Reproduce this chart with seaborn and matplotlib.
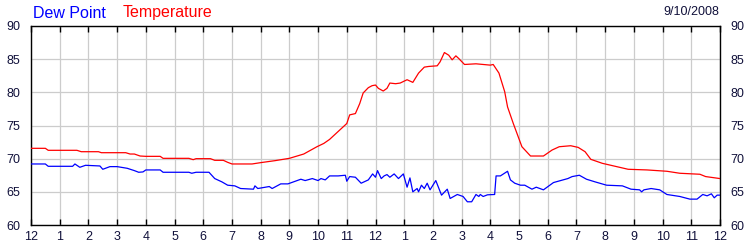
import matplotlib
matplotlib.use("Agg")
import matplotlib.pyplot as plt
import seaborn as sns
import pandas as pd

temp_hours = [0.0, 0.5, 0.6, 1.6, 1.75, 2.35, 2.45, 3.3, 3.45, 3.6, 3.8, 4.0, 4.5, 4.6, 5.5, 5.65,
              5.75, 6.25, 6.4, 6.7, 6.85, 7.0, 7.7, 8.0, 8.5, 9.0, 9.5, 9.96, 10.2, 10.4, 10.7,
              11.0, 11.1, 11.3, 11.45, 11.57, 11.75, 11.88, 12.0, 12.1, 12.27, 12.4, 12.5, 12.7,
              12.86, 13.1, 13.3, 13.5, 13.7, 13.85, 14.15, 14.25, 14.4, 14.55, 14.67, 14.8, 14.9,
              15.1, 15.5, 16.0, 16.1, 16.3, 16.5, 16.6, 16.8, 17.1, 17.4, 17.85, 18.15, 18.4,
              18.8, 19.06, 19.3, 19.5, 19.9, 20.3, 20.8, 21.46, 22.15, 22.6, 23.3, 23.5, 24.0]
temperature = [71.56, 71.56, 71.26, 71.26, 71.05, 71.05, 70.9, 70.9, 70.7, 70.7, 70.4, 70.35, 70.35,
               70.05, 70.05, 69.85, 70.0, 70.0, 69.75, 69.75, 69.45, 69.2, 69.2, 69.4, 69.7, 70.05,
               70.7, 71.8, 72.3, 72.9, 74.1, 75.3, 76.6, 76.8, 78.3, 79.9, 80.7, 81.0, 81.1, 80.6,
               80.2, 80.6, 81.4, 81.3, 81.4, 81.9, 81.5, 82.9, 83.8, 83.9, 84.0, 84.6, 86.0, 85.6,
               84.9, 85.5, 85.1, 84.2, 84.3, 84.1, 84.2, 82.9, 80.1, 77.8, 75.3, 71.8, 70.4, 70.4,
               71.3, 71.8, 71.95, 71.7, 71.05, 69.9, 69.3, 68.9, 68.4, 68.3, 68.1, 67.8, 67.65,
               67.3, 67.0]

dew_hours = [0.0, 0.5, 0.6, 1.45, 1.53, 1.7, 1.9, 2.4, 2.5, 2.75, 3.0, 3.35, 3.6, 3.75, 3.9, 4.0,
             4.5, 4.6, 5.5, 5.6, 5.75, 6.2, 6.4, 6.65, 6.85, 7.1, 7.3, 7.75, 7.8, 7.9, 8.3, 8.4,
             8.7, 8.95, 9.4, 9.55, 9.8, 10.0, 10.1, 10.25, 10.4, 10.7, 10.95, 11.0, 11.1, 11.3,
             11.5, 11.75, 11.9, 12.0, 12.07, 12.2, 12.3, 12.4, 12.5, 12.65, 12.8, 12.97, 13.1,
             13.2, 13.3, 13.45, 13.5, 13.6, 13.7, 13.8, 13.9, 14.1, 14.3, 14.5, 14.6, 14.85,
             15.05, 15.2, 15.35, 15.5, 15.6, 15.65, 15.75, 15.9, 16.15, 16.2, 16.35, 16.6, 16.7,
             16.85, 17.05, 17.2, 17.45, 17.6, 17.85, 18.2, 18.7, 18.85, 19.1, 19.35, 19.65, 20.05,
             20.6, 20.9, 21.2, 21.27, 21.35, 21.6, 21.9, 22.15, 22.6, 22.95, 23.2, 23.4, 23.55,
             23.7, 23.8, 23.9, 24.0]
dew_point = [69.2, 69.2, 68.85, 68.85, 69.2, 68.7, 69.0, 68.9, 68.4, 68.8, 68.8, 68.55, 68.2, 67.95,
             68.0, 68.3, 68.3, 67.95, 67.95, 67.8, 67.95, 67.95, 67.0, 66.5, 66.0, 65.9, 65.5, 65.4,
             65.9, 65.5, 65.8, 65.5, 66.2, 66.2, 66.9, 66.7, 67.0, 66.7, 67.0, 66.8, 67.4, 67.4,
             67.5, 66.6, 67.3, 67.2, 66.3, 66.8, 67.7, 67.2, 68.2, 67.0, 67.4, 67.6, 67.2, 67.7,
             67.0, 67.7, 65.7, 67.1, 65.0, 65.5, 65.0, 66.0, 65.5, 66.3, 65.3, 66.7, 64.5, 65.4,
             64.0, 64.6, 64.3, 63.5, 63.5, 64.6, 64.3, 64.6, 64.3, 64.55, 64.6, 67.4, 67.4, 68.1,
             66.8, 66.3, 66.0, 66.0, 65.4, 65.7, 65.3, 66.4, 67.0, 67.3, 67.5, 66.9, 66.5, 66.0,
             65.9, 65.4, 65.3, 65.0, 65.3, 65.5, 65.3, 64.6, 64.3, 63.9, 63.9, 64.6, 64.4, 64.7,
             64.1, 64.5, 64.5]

x_tick_labels = ["12", "1", "2", "3", "4", "5", "6", "7", "8", "9", "10", "11",
                 "12", "1", "2", "3", "4", "5", "6", "7", "8", "9", "10", "11", "12"]
y_ticks = [60, 65, 70, 75, 80, 85, 90]
date_label = "9/10/2008"

sns.set_style("white")
plt.rcParams["font.family"] = ["Liberation Sans", "DejaVu Sans"]

fig = plt.figure(figsize=(7.5, 2.5), dpi=100)
ax = fig.add_axes([31 / 750, 1 - 225 / 250, (720 - 31) / 750, (225 - 26) / 250])

temp_df = pd.DataFrame({"hour": temp_hours, "value": temperature})
dew_df = pd.DataFrame({"hour": dew_hours, "value": dew_point})

sns.lineplot(data=temp_df, x="hour", y="value", ax=ax, color="#ff0000", linewidth=0.9,
             estimator=None, sort=False, zorder=3)
sns.lineplot(data=dew_df, x="hour", y="value", ax=ax, color="#0000ff", linewidth=0.9,
             estimator=None, sort=False, zorder=3)

ax.set_xlim(0, 24)
ax.set_ylim(60, 90)
ax.set_xticks(range(25))
ax.set_xticklabels(x_tick_labels)
ax.set_yticks(y_ticks)
ax.set_xlabel("")
ax.set_ylabel("")

ax.grid(True, color="#cccccc", linewidth=0.9, zorder=0)
ax.set_axisbelow(True)
for s in ax.spines.values():
    s.set_color("black")
    s.set_linewidth(1.0)

label_color = "#10103a"
ax.tick_params(axis="x", which="both", top=True, bottom=True, direction="in", length=4,
               width=1, color="black", labelsize=9, labelcolor=label_color, pad=4)
ax.tick_params(axis="y", which="both", left=False, right=False, labelleft=True,
               labelright=True, labelsize=9, labelcolor=label_color, pad=4)

fig.text(33 / 750, 1 - 13 / 250, "Dew Point", color="#0000ff", fontsize=11.5, va="center", ha="left")
fig.text(123 / 750, 1 - 13 / 250, "Temperature", color="#ff0000", fontsize=11.5, va="center", ha="left")
fig.text(719 / 750, 1 - 12 / 250, date_label, color=label_color, fontsize=9, va="center", ha="right")

fig.savefig("out.png", dpi=100)
